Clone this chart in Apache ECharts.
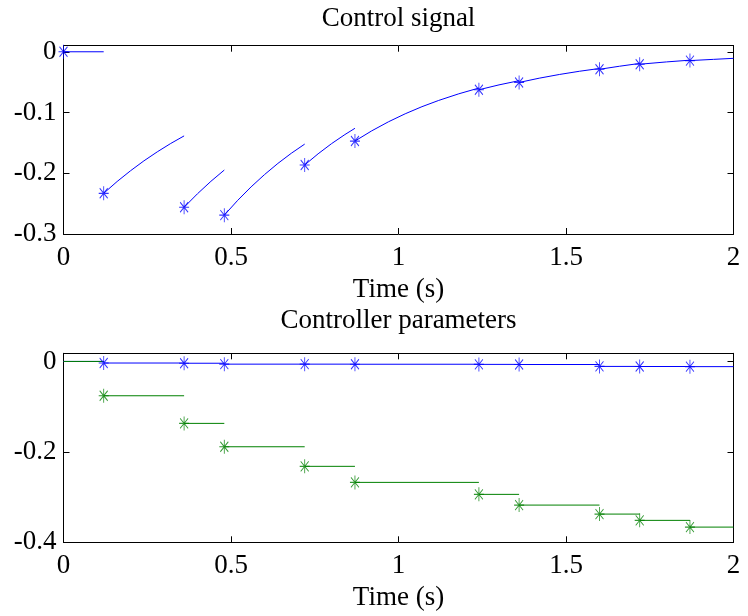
<!DOCTYPE html>
<html><head><meta charset="utf-8">
<script src="https://cdn.jsdelivr.net/npm/echarts@6/dist/echarts.min.js"></script>
<style>html,body{margin:0;padding:0;background:#fff}#c{width:748px;height:616px}</style>
</head><body><div id="c"></div>
<script>
// ---- data ----
const xTickLabels = ['0', '0.5', '1', '1.5', '2'];
const topYTicks = ['0', '-0.1', '-0.2', '-0.3'];
const bottomYTicks = ['0', '-0.2', '-0.4'];

// Control signal: piecewise segments (null = break)
const controlT = [0, 0.12, null,
  0.12, 0.16, 0.20, 0.24, 0.28, 0.32, 0.36, null,
  0.36, 0.40, 0.44, 0.48, null,
  0.48, 0.52, 0.56, 0.60, 0.64, 0.68, 0.72, null,
  0.72, 0.76, 0.80, 0.84, 0.87, null,
  0.87, 0.92, 0.97, 1.02, 1.07, 1.12, 1.18, 1.24, null,
  1.24, 1.30, 1.36, null,
  1.36, 1.42, 1.48, 1.54, 1.60, null,
  1.60, 1.66, 1.72, null,
  1.72, 1.80, 1.87, null,
  1.87, 1.94, 2.00];
const controlU = [0, 0, null,
  -0.233, -0.2136, -0.1959, -0.1796, -0.1647, -0.151, -0.1385, null,
  -0.256, -0.2337, -0.2133, -0.1947, null,
  -0.269, -0.2446, -0.2224, -0.2022, -0.1838, -0.1671, -0.152, null,
  -0.1864, -0.168, -0.1513, -0.1363, -0.126, null,
  -0.147, -0.1302, -0.1153, -0.1021, -0.0904, -0.0801, -0.0692, -0.0597, null,
  -0.0625, -0.0545, -0.0476, null,
  -0.0505, -0.0435, -0.0374, -0.0321, -0.0275, null,
  -0.0288, -0.0238, -0.0192, null,
  -0.0205, -0.0167, -0.0138, null,
  -0.0145, -0.0125, -0.0108];
const controlMarkT = [0, 0.12, 0.36, 0.48, 0.72, 0.87, 1.24, 1.36, 1.60, 1.72, 1.87];
const controlMarkU = [0, -0.233, -0.256, -0.269, -0.1864, -0.147, -0.0625, -0.0505, -0.0288, -0.0205, -0.0145];

// Controller parameters: step values starting at each event time
const paramT = [0, 0.12, 0.36, 0.48, 0.72, 0.87, 1.24, 1.36, 1.60, 1.72, 1.87];
const param1 = [0, -0.0035, -0.004, -0.006, -0.006, -0.0062, -0.0065, -0.0068, -0.011, -0.0112, -0.0115];
const param2 = [0, -0.0759, -0.137, -0.1887, -0.232, -0.2675, -0.294, -0.3177, -0.3376, -0.3515, -0.3664];
const tEnd = 2;

// ---- styling / building ----
const FONT = "'Liberation Serif', 'Times New Roman', serif";
const FS = 27;
const BLUE = '#0000ff', GREEN = '#008000';
const STAR = 'path://M5,0L5,14M0,7L10,7M1,2L9,12M1,12L9,2';

function segments(T, U) {
  const segs = []; let cur = [];
  for (let i = 0; i < T.length; i++) {
    if (T[i] === null) { if (cur.length) segs.push(cur); cur = []; }
    else cur.push([T[i], U[i]]);
  }
  if (cur.length) segs.push(cur);
  return segs;
}
function steps(T, V) {
  return T.map((t, i) => [[t, V[i]], [i + 1 < T.length ? T[i + 1] : tEnd, V[i]]]);
}
function lineSeries(data, color, xi, yi) {
  return { type: 'line', data, xAxisIndex: xi, yAxisIndex: yi, symbol: 'none', silent: true,
    lineStyle: { color, width: 1 }, animation: false, z: 2 };
}
function markSeries(data, color, xi, yi) {
  return { type: 'scatter', data, xAxisIndex: xi, yAxisIndex: yi, symbol: STAR, symbolSize: [10, 14],
    silent: true, animation: false, z: 3,
    itemStyle: { color: 'rgba(0,0,0,0)', borderColor: color, borderWidth: 1 } };
}
function fmt(labels) {
  return function (v) {
    const s = String(+v.toFixed(3));
    return labels.indexOf(s) >= 0 ? s : '';
  };
}
const axisLine = { show: true, onZero: false, lineStyle: { color: '#000', width: 1 } };
const tick = { show: true, inside: true, length: 6, lineStyle: { color: '#000', width: 1 } };
const lbl = (labels, margin) => ({ show: true, fontFamily: FONT, fontSize: FS, color: '#000', margin, formatter: fmt(labels), showMaxLabel: labels === xTickLabels });

function xAxes(gi, nameGap, margin) {
  return [
    { type: 'value', gridIndex: gi, position: 'bottom', min: 0, max: 2, interval: 0.5,
      axisLine, axisTick: tick, axisLabel: lbl(xTickLabels, margin), splitLine: { show: false },
      name: 'Time (s)', nameLocation: 'middle', nameGap,
      nameTextStyle: { fontFamily: FONT, fontSize: FS, color: '#000' } },
    { type: 'value', gridIndex: gi, position: 'top', min: 0, max: 2, interval: 0.5,
      axisLine, axisTick: tick, axisLabel: { show: false }, splitLine: { show: false } }
  ];
}
function yAxes(gi, min, max, interval, labels) {
  return [
    { type: 'value', gridIndex: gi, position: 'left', min, max, interval,
      axisLine, axisTick: tick, axisLabel: lbl(labels, 7), splitLine: { show: false } },
    { type: 'value', gridIndex: gi, position: 'right', min, max, interval,
      axisLine, axisTick: tick, axisLabel: { show: false }, splitLine: { show: false } }
  ];
}

const series = [];
segments(controlT, controlU).forEach(s => series.push(lineSeries(s, BLUE, 0, 0)));
series.push(markSeries(controlMarkT.map((t, i) => [t, controlMarkU[i]]), BLUE, 0, 0));
steps(paramT, param1).forEach(s => series.push(lineSeries(s, BLUE, 2, 2)));
series.push(markSeries(paramT.slice(1).map((t, i) => [t, param1[i + 1]]), BLUE, 2, 2));
steps(paramT, param2).forEach(s => series.push(lineSeries(s, GREEN, 2, 2)));
series.push(markSeries(paramT.slice(1).map((t, i) => [t, param2[i + 1]]), GREEN, 2, 2));

const chart = echarts.init(document.getElementById('c'), null, { renderer: 'canvas' });
chart.setOption({
  backgroundColor: '#fff',
  animation: false,
  title: [
    { text: 'Control signal', left: 398.5, top: 5, textAlign: 'center', padding: 0,
      textStyle: { fontFamily: FONT, fontSize: FS, fontWeight: 'normal', color: '#000' } },
    { text: 'Controller parameters', left: 398.5, top: 307, textAlign: 'center', padding: 0,
      textStyle: { fontFamily: FONT, fontSize: FS, fontWeight: 'normal', color: '#000' } }
  ],
  grid: [
    { left: 63.5, top: 45.7, width: 670, height: 188.3 },
    { left: 63.5, top: 353.3, width: 670, height: 189 }
  ],
  xAxis: [...xAxes(0, 42, 10), ...xAxes(1, 42, 10)],
  yAxis: [...yAxes(0, -0.3, 0.01, 0.1, topYTicks), ...yAxes(1, -0.4, 0.018, 0.2, bottomYTicks)],
  series
});
</script>
</body></html>
